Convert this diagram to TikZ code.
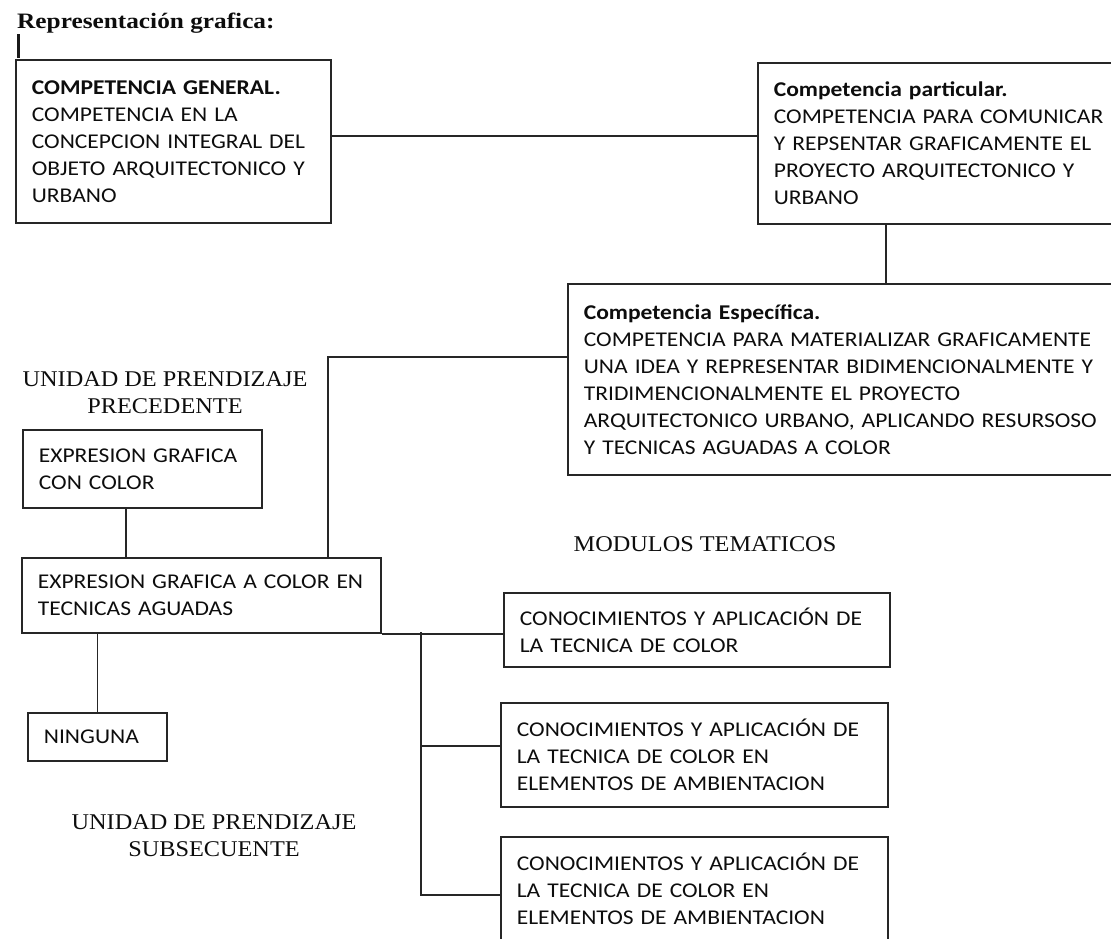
\documentclass[tikz,border=0pt]{standalone}
\usepackage{fontspec}
\newfontfamily\boxfont[FakeStretch=1.12]{Carlito}
\newfontfamily\labfont[FakeStretch=1.08]{Liberation Serif}
\newfontfamily\titfont[FakeStretch=1.15]{Liberation Serif}
\usetikzlibrary{positioning}

\tikzset{
  caja/.style={draw=black!85, line width=1.7pt, anchor=north west, align=left,
    inner xsep=16pt, inner ysep=0pt, text=black!95,
    font=\boxfont\fontsize{21}{27}\selectfont},
  enlace/.style={draw=black!85, line width=1.6pt},
  rotulo/.style={align=center, text=black!95, font=\labfont\fontsize{22.5}{27}\selectfont}
}

\begin{document}
\begin{tikzpicture}[x=1pt,y=-1pt]
      \useasboundingbox (0,0) rectangle (1111,938);

      \node[anchor=base west, inner sep=0pt, text=black!95, font=\titfont\bfseries\fontsize{22}{26}\selectfont] (titulo) at (17,28) {Representación grafica:};
      \draw[black!90, line width=3pt] (18,34) -- (18,58);

      \node[caja, text width=283pt, minimum height=163pt] (general) at (15,59)
        {\textbf{COMPETENCIA GENERAL.}\\COMPETENCIA EN LA\\CONCEPCION INTEGRAL DEL\\OBJETO ARQUITECTONICO Y\\URBANO};
      \node[caja, text width=362pt, minimum height=161pt] (particular) at (757,62)
        {\textbf{Competencia particular.}\\COMPETENCIA PARA COMUNICAR\\Y REPSENTAR GRAFICAMENTE EL\\PROYECTO ARQUITECTONICO Y\\URBANO};
      \node[caja, text width=548pt, minimum height=191pt] (especifica) at (567,283)
        {\textbf{Competencia Específica.}\\COMPETENCIA PARA MATERIALIZAR GRAFICAMENTE\\UNA IDEA Y REPRESENTAR BIDIMENCIONALMENTE Y\\TRIDIMENCIONALMENTE EL PROYECTO\\ARQUITECTONICO URBANO, APLICANDO RESURSOSO\\Y TECNICAS AGUADAS A COLOR};

      \node[rotulo] (precedente) at (165,393) {UNIDAD DE PRENDIZAJE\\PRECEDENTE};
      \node[caja, text width=207pt, minimum height=78pt] (previa) at (22,429)
        {EXPRESION GRAFICA\\CON COLOR};
      \node[caja, text width=327pt, minimum height=75pt] (aguadas) at (21,557)
        {EXPRESION GRAFICA A COLOR EN\\TECNICAS AGUADAS};
      \node[caja, text width=107pt, minimum height=48pt] (ninguna) at (27,712) {NINGUNA};
      \node[rotulo] (subsecuente) at (214,836) {UNIDAD DE PRENDIZAJE\\SUBSECUENTE};

      \node[rotulo] (modulos) at (705,544) {MODULOS TEMATICOS};
      \node[caja, text width=354pt, minimum height=74pt] (modA) at (503,592)
        {CONOCIMIENTOS Y APLICACIÓN DE\\LA TECNICA DE COLOR};
      \node[caja, text width=355pt, minimum height=104pt] (modB) at (500,702)
        {CONOCIMIENTOS Y APLICACIÓN DE\\LA TECNICA DE COLOR EN\\ELEMENTOS DE AMBIENTACION};
      \node[caja, text width=355pt, minimum height=104pt] (modC) at (500,836)
        {CONOCIMIENTOS Y APLICACIÓN DE\\LA TECNICA DE COLOR EN\\ELEMENTOS DE AMBIENTACION};

      \coordinate (g1) at ([yshift=5.5pt]general.east);
      \coordinate (p1) at (886,0);
      \coordinate (e1) at (0,357);
      \coordinate (v1) at (328,0);
      \coordinate (r1) at (126,0);
      \coordinate (tronco) at (421,632);
      \coordinate (ramaB) at (421,746);
      \coordinate (ramaC) at (421,895);

      \draw[enlace] (g1) -- (g1 -| particular.west);
      \draw[enlace] (particular.south -| p1) -- (especifica.north -| p1);
      \draw[enlace] (especifica.west |- e1) -- (v1 |- e1) -- (v1 |- aguadas.north);
      \draw[enlace] (r1 |- previa.south) -- (r1 |- aguadas.north);
      \draw[enlace] (ninguna.north) -- (ninguna.north |- aguadas.south);
      \draw[enlace] (aguadas.south east) -- (aguadas.south east -| modA.west);
      \draw[enlace] (tronco) -- (ramaC) -- (ramaC -| modC.west);
      \draw[enlace] (ramaB) -- (ramaB -| modB.west);
    \end{tikzpicture}
\end{document}
